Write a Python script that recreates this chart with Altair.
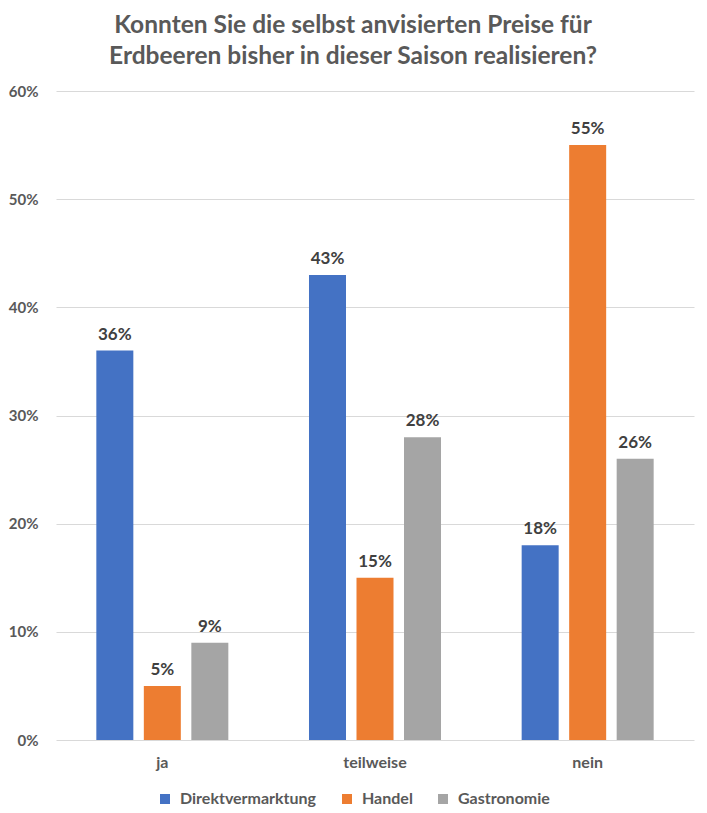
import altair as alt
import pandas as pd

categories = ["ja", "teilweise", "nein"]
series = ["Direktvermarktung", "Handel", "Gastronomie"]
direktvermarktung = [36, 43, 18]
handel = [5, 15, 55]
gastronomie = [9, 28, 26]
colors = ["#4472C4", "#ED7D31", "#A5A5A5"]
y_ticks = [0, 10, 20, 30, 40, 50, 60]

rows = []
for s, vals in zip(series, [direktvermarktung, handel, gastronomie]):
    for c, v in zip(categories, vals):
        rows.append({"Kategorie": c, "Gruppe": s, "Wert": v, "Label": f"{v}%"})
df = pd.DataFrame(rows)

FONT = "Lato"
GRAY = "#595959"

base = alt.Chart(df).encode(
    x=alt.X(
        "Kategorie:N",
        sort=categories,
        scale=alt.Scale(paddingInner=0, paddingOuter=0),
        axis=alt.Axis(
            title=None, labelAngle=0, ticks=False, domain=False,
            labelFont=FONT, labelFontSize=16, labelFontWeight="bold",
            labelColor=GRAY, labelPadding=14, labelBaseline="top",
        ),
    ),
    xOffset=alt.XOffset(
        "Gruppe:N", sort=series,
        scale=alt.Scale(paddingInner=0.221, paddingOuter=0.849),
    ),
    y=alt.Y(
        "Wert:Q",
        scale=alt.Scale(domain=[0, 60], nice=False),
        axis=alt.Axis(
            title=None, values=y_ticks, labelExpr="datum.value + '%'",
            ticks=False, domain=False, grid=True, gridColor="#D9D9D9",
            gridWidth=1, labelFont=FONT, labelFontSize=15,
            labelFontWeight="bold", labelColor=GRAY, labelPadding=18,
        ),
    ),
)

bars = base.mark_bar().encode(
    color=alt.Color(
        "Gruppe:N", sort=series,
        scale=alt.Scale(domain=series, range=colors),
        legend=alt.Legend(
            title=None, orient="none", direction="horizontal",
            legendX=101, legendY=700, symbolType="square", symbolSize=100,
            symbolStrokeWidth=0, labelFont=FONT, labelFontSize=16,
            labelFontWeight="bold", labelColor=GRAY, labelOffset=7,
            columnPadding=22, padding=0,
        ),
    )
)

labels = base.mark_text(
    font=FONT, fontSize=17, fontWeight="bold", color="#404040",
    baseline="alphabetic", dy=-11,
).encode(text="Label:N")

chart = (
    alt.layer(bars, labels)
    .properties(
        width=638,
        height=649,
        autosize=alt.AutoSizeParams(type="none"),
        padding={"left": 48, "top": 83, "right": 5, "bottom": 72},
        title=alt.TitleParams(
            text=["Konnten Sie die selbst anvisierten Preise für",
                  "Erdbeeren bisher in dieser Saison realisieren?"],
            font=FONT, fontSize=24.5, fontWeight="bold", color=GRAY,
            lineHeight=31, anchor="middle", dx=-22, offset=15,
        ),
    )
    .configure_view(stroke=None)
)

chart.save("out.html", embed_options={"renderer": "svg", "actions": False})
